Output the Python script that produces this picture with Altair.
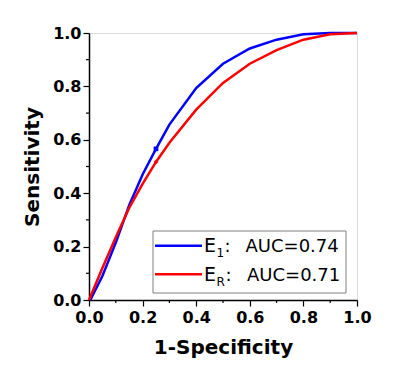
import altair as alt
import pandas as pd

# ROC curve data
fpr_e1 = [0.005, 0.05, 0.1, 0.15, 0.2, 0.25, 0.3, 0.4, 0.5, 0.6, 0.7, 0.8, 0.9, 1.0]
tpr_e1 = [0.0, 0.09, 0.215, 0.355, 0.47, 0.566, 0.657, 0.794, 0.885, 0.942, 0.975, 0.995, 1.0, 1.0]
fpr_er = [0.0, 0.05, 0.1, 0.15, 0.2, 0.25, 0.3, 0.4, 0.5, 0.6, 0.7, 0.8, 0.9, 1.0]
tpr_er = [0.0, 0.12, 0.235, 0.345, 0.435, 0.517, 0.589, 0.713, 0.813, 0.885, 0.936, 0.975, 0.995, 1.0]

series_names = ["E1", "ER"]
series_colors = ["#0000ff", "#ff0000"]

# highlighted operating points
marker_x = [0.25, 0.25]
marker_y = [0.566, 0.517]
marker_colors = ["#2a7fd4", "#ff0000"]
marker_shapes = ["square", "diamond"]

major_ticks = [0.0, 0.2, 0.4, 0.6, 0.8, 1.0]
minor_ticks = [0.1, 0.3, 0.5, 0.7, 0.9]

legend_main = ["E", "E"]
legend_sub = ["1", "R"]
legend_auc = ["AUC=0.74", "AUC=0.71"]

W, H = 268, 267
FONT = "DejaVu Sans"

curves = pd.DataFrame(
    {"x": fpr_e1 + fpr_er,
     "y": tpr_e1 + tpr_er,
     "s": [series_names[0]] * len(fpr_e1) + [series_names[1]] * len(fpr_er)}
)
markers = pd.DataFrame({"x": marker_x, "y": marker_y, "s": series_names})

xscale = alt.Scale(domain=[0, 1], nice=False)
yscale = alt.Scale(domain=[0, 1], nice=False)

axis_common = dict(
    values=major_ticks, format=".1f", grid=False, labelFlush=False, labelOverlap=False,
    domainColor="black", domainWidth=1.5,
    tickColor="black", tickSize=6, tickWidth=1.2,
    labelFont=FONT, labelFontSize=16, labelFontWeight="bold", labelColor="black",
    titleFont=FONT, titleFontSize=20, titleFontWeight="bold", titleColor="black",
)

lines = alt.Chart(curves).mark_line(strokeWidth=2.5, clip=False).encode(
    x=alt.X("x:Q", scale=xscale,
            axis=alt.Axis(title="1-Specificity", labelPadding=3, titlePadding=12, **axis_common)),
    y=alt.Y("y:Q", scale=yscale,
            axis=alt.Axis(title="Sensitivity", labelPadding=2, titlePadding=10, **axis_common)),
    color=alt.Color("s:N", scale=alt.Scale(domain=series_names, range=series_colors), legend=None),
)

pts = alt.Chart(markers).mark_point(filled=True, size=22, opacity=1).encode(
    x=alt.X("x:Q", scale=xscale),
    y=alt.Y("y:Q", scale=yscale),
    color=alt.Color("s:N", scale=alt.Scale(domain=series_names, range=marker_colors), legend=None),
    shape=alt.Shape("s:N", scale=alt.Scale(domain=series_names, range=marker_shapes), legend=None),
)

xminor = alt.Chart(pd.DataFrame({"t": minor_ticks})).mark_rule(color="black", strokeWidth=1.2).encode(
    x=alt.X("t:Q", scale=xscale), y=alt.value(H), y2=alt.value(H + 3)
)
yminor = alt.Chart(pd.DataFrame({"t": minor_ticks})).mark_rule(color="black", strokeWidth=1.2).encode(
    y=alt.Y("t:Q", scale=yscale), x=alt.value(0), x2=alt.value(-3)
)

one = pd.DataFrame({"k": [0]})
box = alt.Chart(one).mark_rect(fill="white", stroke="#808080", strokeWidth=1).encode(
    x=alt.value(64), x2=alt.value(257), y=alt.value(198), y2=alt.value(260)
)

legend_layers = []
row_y = [218.7, 247.7]
line_y = [212.7, 241.3]
colon_x = [135.5, 136.5]
for i in range(2):
    legend_layers.append(
        alt.Chart(one).mark_rule(color=series_colors[i], strokeWidth=2.5).encode(
            x=alt.value(66), x2=alt.value(113), y=alt.value(line_y[i])
        )
    )
    legend_layers.append(
        alt.Chart(one).mark_text(text=legend_main[i], font=FONT, fontSize=19, align="left",
                                 baseline="alphabetic", color="black").encode(
            x=alt.value(115), y=alt.value(row_y[i])
        )
    )
    legend_layers.append(
        alt.Chart(one).mark_text(text=legend_sub[i], font=FONT, fontSize=12, align="left",
                                 baseline="alphabetic", color="black").encode(
            x=alt.value(127.5), y=alt.value(row_y[i] + 5)
        )
    )
    legend_layers.append(
        alt.Chart(one).mark_text(text=":", font=FONT, fontSize=18, align="left",
                                 baseline="alphabetic", color="black").encode(
            x=alt.value(colon_x[i]), y=alt.value(row_y[i])
        )
    )
    legend_layers.append(
        alt.Chart(one).mark_text(text=legend_auc[i], font=FONT, fontSize=18, align="left",
                                 baseline="alphabetic", color="black").encode(
            x=alt.value(156.5 if i == 0 else 158), y=alt.value(row_y[i])
        )
    )

chart = alt.layer(lines, pts, xminor, yminor, box, *legend_layers).properties(
    width=W, height=H,
    autosize=alt.AutoSizeParams(type="none"),
    padding={"left": 81, "top": 25, "right": 37, "bottom": 71},
).configure_view(stroke="#a0a0a0", strokeWidth=1).configure(background="white")

chart.save("out.html", embed_options={"renderer": "svg", "actions": False})
